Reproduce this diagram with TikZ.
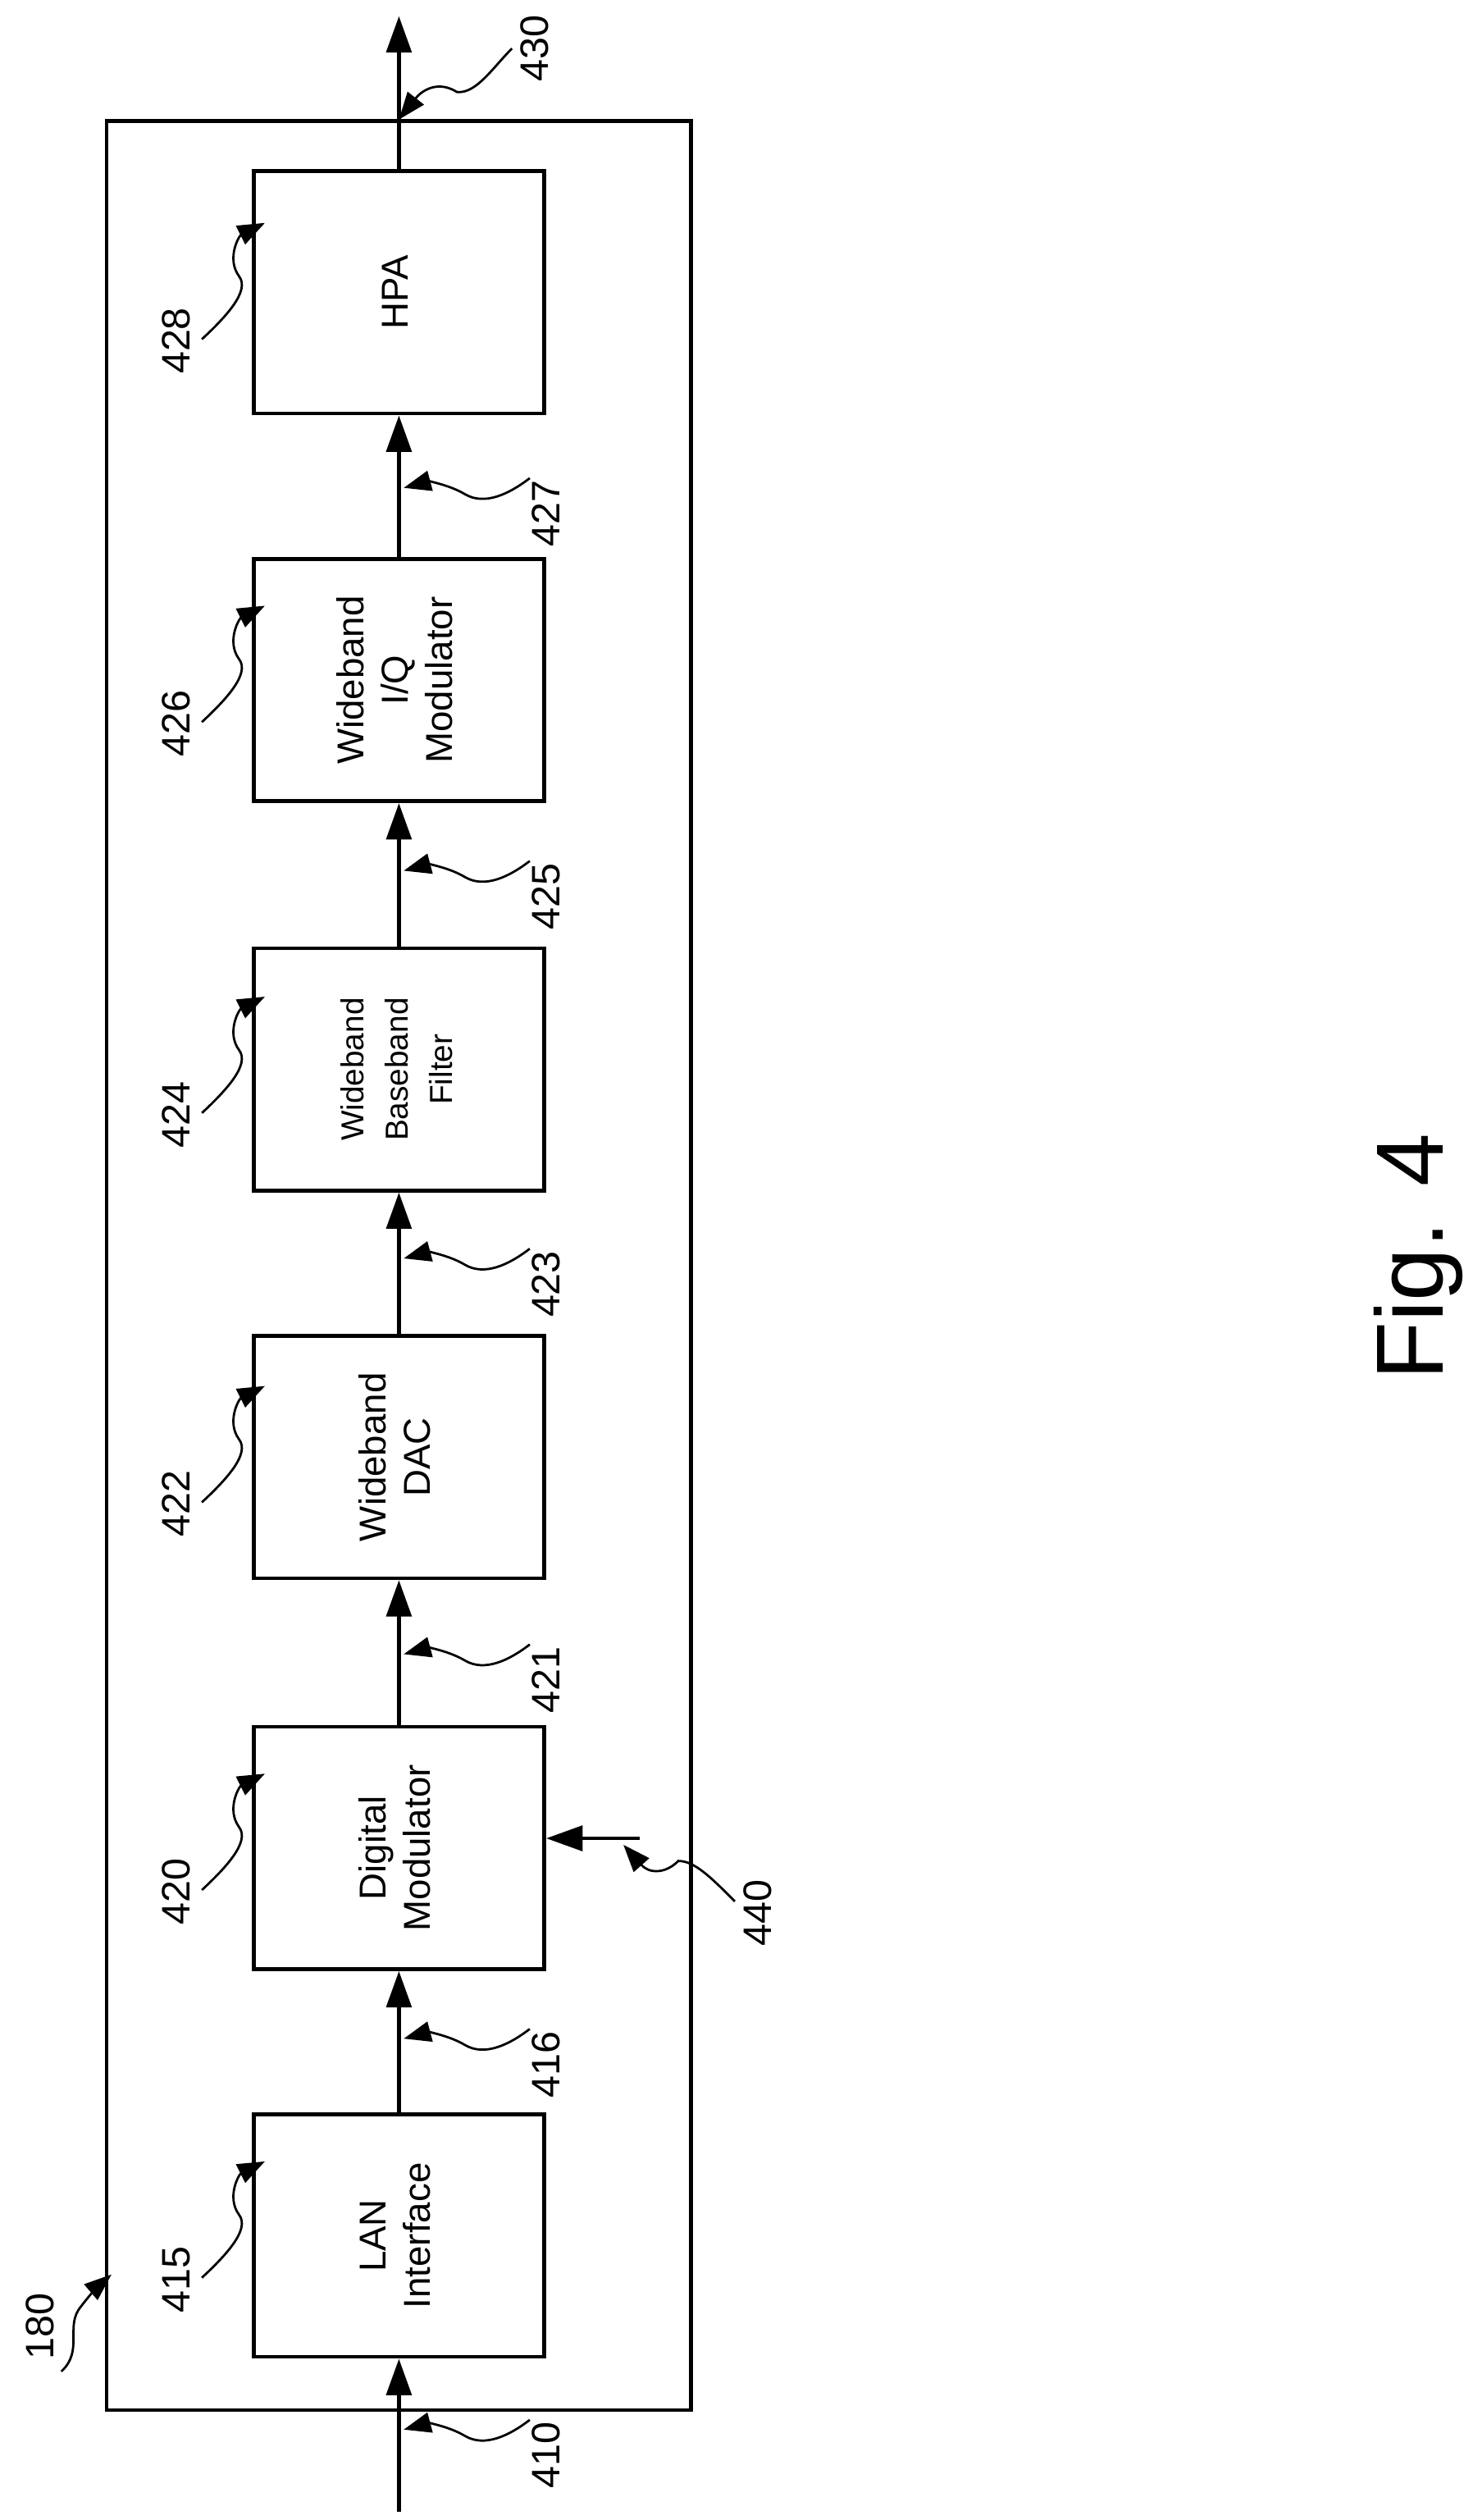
\documentclass[tikz,border=0pt]{standalone}
\usepackage{fontspec}
\setmainfont{Liberation Sans}
\usetikzlibrary{arrows.meta}
\usetikzlibrary{positioning}
\tikzset{block/.style={draw, line width=3.4pt, minimum width=9cm, minimum height=7.5cm, inner sep=0pt, font=\fontsize{33}{39}\selectfont}}
\tikzset{connect/.style={draw, line width=3.4pt, -{Triangle[length=32pt,width=22pt]}}}
\tikzset{lead/.style={draw, line width=2pt, -{Triangle[length=24pt,width=18pt]}}}
\tikzset{num/.style={rotate=90, font=\fontsize{35}{40}\selectfont, inner sep=0pt}}
\newcommand{\rtext}[1]{\rotatebox{90}{\begin{tabular}{@{}c@{}}#1\end{tabular}}}

\begin{document}
\begin{tikzpicture}[x=0.05cm, y=-0.05cm]
\useasboundingbox (0,0) rectangle (912,1560);

\draw[line width=3.4pt] (66,75) rectangle (428,1492);

\node[block] (hpa) at (247,181) {\rtext{HPA}};
\node[block] (iq) at (247,421) {\rtext{Wideband\\I/Q\\Modulator}};
\node[block] (filt) at (247,662) {\rtext{\fontsize{28}{34}\selectfont Wideband\\\fontsize{28}{34}\selectfont Baseband\\\fontsize{28}{34}\selectfont Filter}};
\node[block] (dac) at (247,902) {\rtext{Wideband\\DAC}};
\node[block] (dmod) at (247,1144) {\rtext{Digital\\Modulator}};
\node[block] (lan) at (247,1384) {\rtext{LAN\\Interface}};

\coordinate (in) at (247,1555);
\coordinate (out) at (247,10);
\coordinate (ctl) at (396,1138);

\path[connect] (in) -- (lan.south);
\path[connect] (lan.north) -- (dmod.south);
\path[connect] (dmod.north) -- (dac.south);
\path[connect] (dac.north) -- (filt.south);
\path[connect] (filt.north) -- (iq.south);
\path[connect] (iq.north) -- (hpa.south);
\path[connect] (hpa.north) -- (out);
\path[connect] (ctl) -- (dmod.east |- ctl);

% block labels
\foreach \lbl/\top in {428/108,426/345,424/587,422/828,420/1068,415/1308}{
  \node[num] (n\lbl) at (109,\top+103) {\lbl};
  \path[lead] (125,\top+102) .. controls (140,\top+88) and (155,\top+72) .. (148,\top+63)
    .. controls (140,\top+52) and (148,\top+38) .. (164,\top+30);
}

% connector labels
\foreach \lbl/\y in {427/318,425/555,423/795,421/1040,416/1278,410/1520}{
  \node[num] (n\lbl) at (338,\y) {\lbl};
  \path[lead] (328,\y-22) .. controls (315,\y-12) and (300,\y-5) .. (288,\y-12)
    .. controls (278,\y-18) and (265,\y-20) .. (250,\y-16);
}

\node[num] (n440) at (469,1184) {440};
\path[lead] (455,1177) .. controls (440,1162) and (430,1152) .. (420,1152)
  .. controls (412,1160) and (402,1160) .. (386,1142);

\node[num] (n430) at (331,30) {430};
\path[lead] (317,30) .. controls (305,42) and (295,58) .. (283,57)
  .. controls (272,50) and (262,55) .. (247,74);

\node[num] (n180) at (25,1440) {180};
\path[lead] (38,1468) .. controls (52,1455) and (40,1440) .. (50,1428)
  .. controls (56,1420) and (62,1414) .. (69,1408);

\node[rotate=90, font=\fontsize{84}{94}\selectfont] (fig) at (878,778) {Fig. 4};

\end{tikzpicture}
\end{document}
